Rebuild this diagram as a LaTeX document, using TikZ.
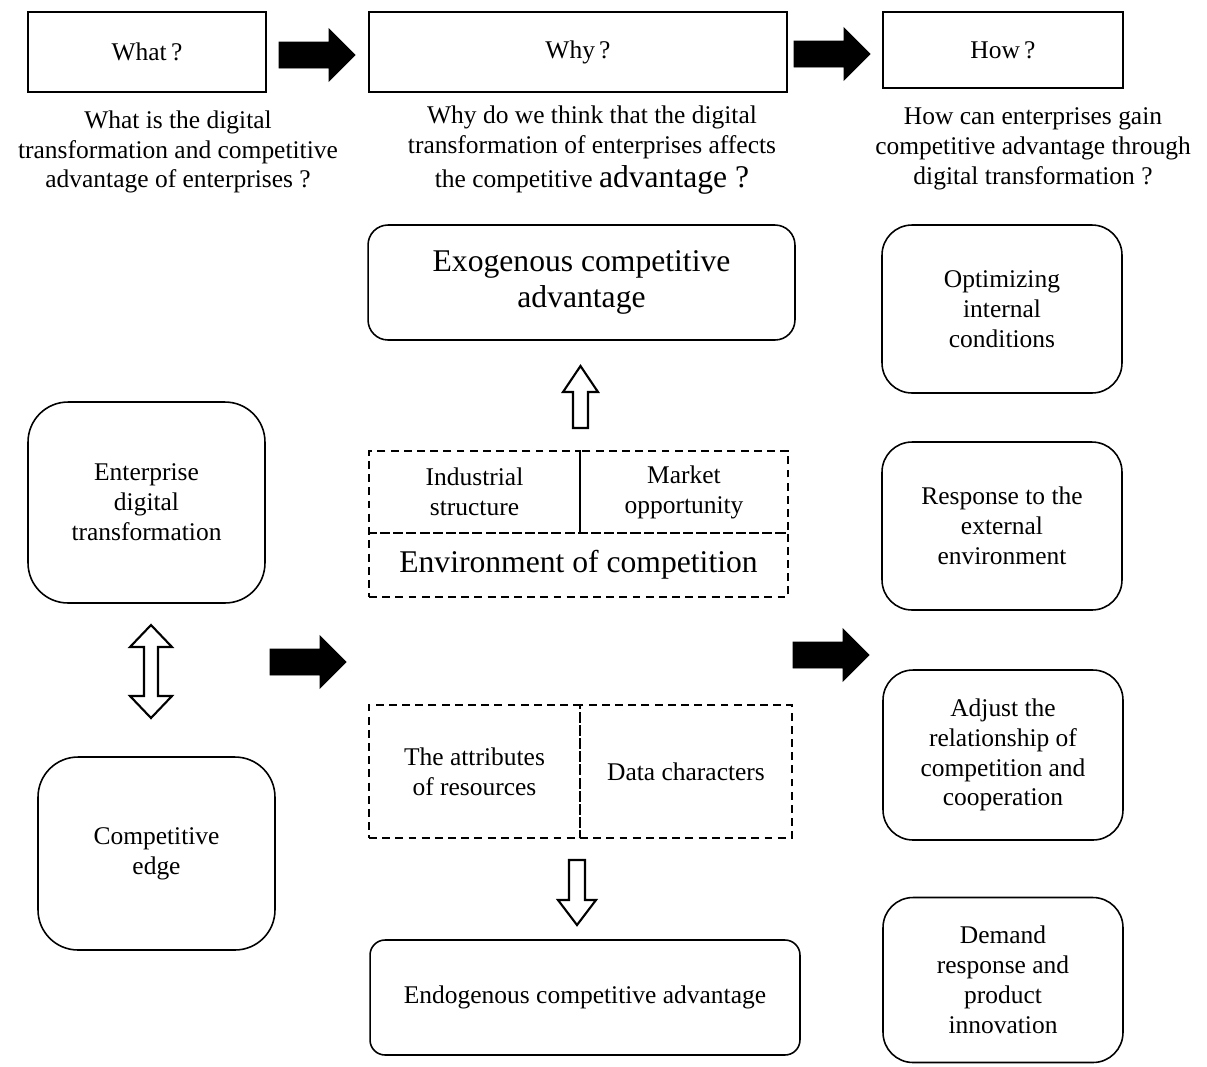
\documentclass[tikz,border=0pt]{standalone}
\usepackage{fontspec}
\setmainfont{Liberation Serif}
\usetikzlibrary{positioning}

\newcommand{\lblfont}{\fontsize{14.5}{17}\selectfont}
\newcommand{\lgfont}{\fontsize{18}{20.5}\selectfont}
% black block arrow pointing right, #1 = tail centre
\newcommand{\fatarrow}[1]{\draw[blackarrow] #1 ++(0,-13) -- ++(50,0) -- ++(0,-13) -- ++(26,26) -- ++(-26,26) -- ++(0,-13) -- ++(-50,0) -- cycle;}

\tikzset{
  box/.style={draw, rectangle, line width=0.9pt, align=center, font=\lblfont, inner sep=2pt},
  roundbox/.style={box, rounded corners=#1},
  dashbox/.style={box, line width=1.4pt, dash pattern=on 4.5pt off 3pt},
  note/.style={align=center, font=\lblfont, inner sep=0pt},
  blackarrow/.style={fill=black, draw=black, line width=0.5pt},
  whitearrow/.style={fill=white, draw=black, line width=1.2pt},
}

\begin{document}
\begin{tikzpicture}[x=0.02cm, y=-0.02cm]
  \useasboundingbox (0,0) rectangle (1207,1066);

  % question row
  \node[box, minimum width=4.76cm, minimum height=1.6cm] (what) at (147,52) {What\,?};
  \node[box, minimum width=8.36cm, minimum height=1.6cm] (why) at (578,52) {Why\,?};
  \node[box, minimum width=4.8cm, minimum height=1.52cm] (how) at (1003,50) {How\,?};
  \fatarrow{(279,55)}
  \fatarrow{(794,54)}

  \node[note] (whattext) at (178,152) {What is the digital\\transformation and competitive\\advantage of enterprises ?};
  \node[note] (whytext) at (592,150) {Why do we think that the digital\\transformation of enterprises affects\\[2pt]the competitive {\lgfont advantage ?}};
  \node[note] (howtext) at (1033,149) {How can enterprises gain\\competitive advantage through\\digital transformation ?};

  % left column
  \node[roundbox=0.8cm, minimum width=4.74cm, minimum height=4.02cm] (edt) at (146.5,502.5) {Enterprise\\digital\\transformation};
  \node[roundbox=0.8cm, minimum width=4.74cm, minimum height=3.86cm] (edge) at (156.5,853.5) {Competitive\\edge};
  \draw[whitearrow] (151,625) -- (172,647) -- (158,647) -- (158,696) -- (172,696) -- (151,718)
    -- (130,696) -- (144,696) -- (144,647) -- (130,647) -- cycle;
  \fatarrow{(270,662)}

  % middle column
  \node[roundbox=0.4cm, font=\lgfont, minimum width=8.54cm, minimum height=2.3cm] (exo) at (581.5,282.5) {Exogenous competitive\\advantage};
  \draw[whitearrow] (573,428) -- (573,392) -- (563,392) -- (580.5,366) -- (598,392) -- (588,392) -- (588,428) -- cycle;
  \node[dashbox, minimum width=4.22cm, minimum height=1.64cm] (indus) at (474.5,492) {Industrial\\structure};
  \node[dashbox, minimum width=4.16cm, minimum height=1.64cm] (market) at (684,492) {Market\\opportunity};
  \node[dashbox, font=\lgfont, minimum width=8.38cm, minimum height=1.28cm] (env) at (578.5,565) {Environment of competition};

  \node[dashbox, minimum width=4.22cm, minimum height=2.66cm] (attr) at (474.5,771.5) {The attributes\\of resources};
  \node[dashbox, minimum width=4.24cm, minimum height=2.66cm] (data) at (686,771.5) {Data characters};
  \draw[whitearrow] (569,860) -- (569,900) -- (558,900) -- (577,925) -- (596,900) -- (585,900) -- (585,860) -- cycle;
  \node[roundbox=0.3cm, minimum width=8.6cm, minimum height=2.3cm] (endo) at (585,997.5) {Endogenous competitive advantage};

  % right column
  \fatarrow{(793,655)}
  \node[roundbox=0.6cm, minimum width=4.8cm, minimum height=3.36cm] (optim) at (1002,309) {Optimizing\\internal\\conditions};
  \node[roundbox=0.6cm, minimum width=4.8cm, minimum height=3.36cm] (resp) at (1002,526) {Response to the\\external\\environment};
  \node[roundbox=0.6cm, minimum width=4.8cm, minimum height=3.4cm] (adjust) at (1003,755) {Adjust the\\relationship of\\competition and\\cooperation};
  \node[roundbox=0.6cm, minimum width=4.8cm, minimum height=3.3cm] (demand) at (1003,980) {Demand\\response and\\product\\innovation};
\end{tikzpicture}
\end{document}
